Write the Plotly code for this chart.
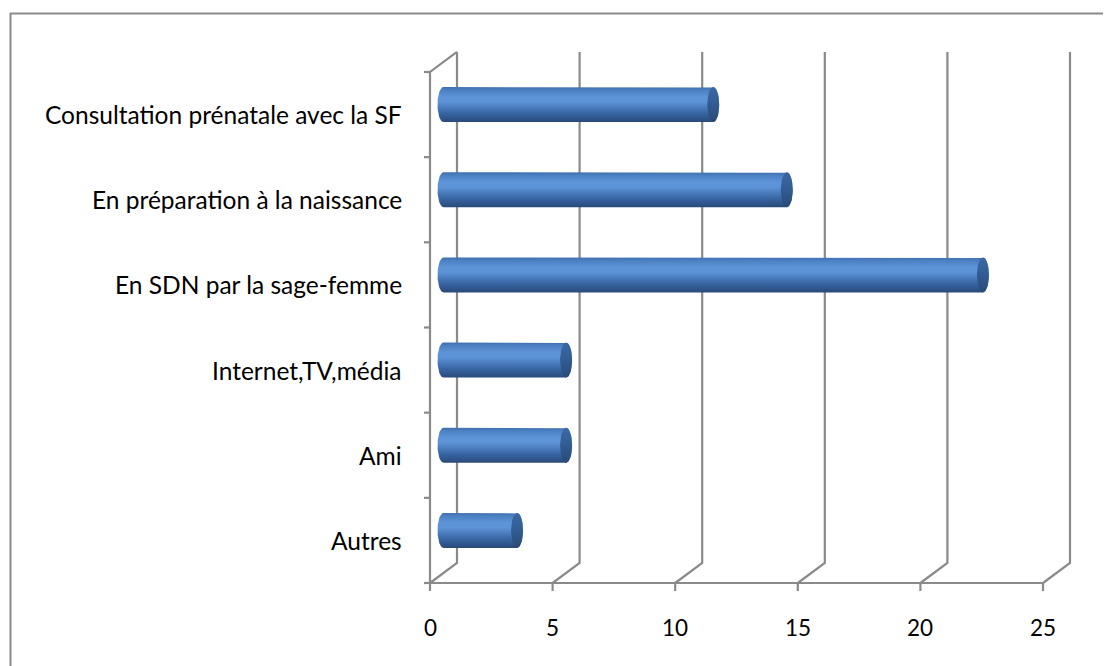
import numpy as np
import plotly.graph_objects as go

# ---------------- data ----------------
categories = ["Autres", "Ami", "Internet,TV,média", "En SDN par la sage-femme",
              "En préparation à la naissance", "Consultation prénatale avec la SF"]
values = [3, 5, 5, 22, 14, 11]
x_ticks = [0, 5, 10, 15, 20, 25]
x_tick_labels = ["0", "5", "10", "15", "20", "25"]

# ---------------- geometry (pixel -> data mapping) ----------------
OFF = 8                            # page body margin
W, H = 1111 - OFF, 666 - OFF
X0_PX, PX_PER_UNIT = 430 - OFF, 24.52   # value 0 at x=430 px (page), 25 at ~1043 px
Y0_PX, PX_PER_CAT = 583 - OFF, 85.17    # front axis at y=583 px (page)


def ux(px):
    return px / PX_PER_UNIT


def uy(px):
    return px / PX_PER_CAT


xr = [(0 - X0_PX) / PX_PER_UNIT, (W - X0_PX) / PX_PER_UNIT]
yr = [(Y0_PX - H) / PX_PER_CAT, Y0_PX / PX_PER_CAT]
DX, DY = ux(27), uy(20)           # 3D depth offset
n_cat = len(categories)
GRID = "#8a8a8a"
FONT = "Lato"

fig = go.Figure()

# ---------------- walls / gridlines ----------------
gx, gy = [], []
for t in x_ticks:
    gx += [t, t + DX, t + DX, None]
    gy += [0, DY, n_cat + DY, None]
# left (front) vertical axis and top diagonal
gx += [0, 0, DX, None]
gy += [0, n_cat, n_cat + DY, None]
# front horizontal axis
gx += [0, x_ticks[-1], None]
gy += [0, 0, None]
# category tick marks (left) and value tick marks (down)
for k in range(n_cat + 1):
    gx += [-ux(6), 0, None]
    gy += [k, k, None]
for t in x_ticks:
    gx += [t, t, None]
    gy += [0, -uy(8), None]
fig.add_trace(go.Scatter(x=gx, y=gy, mode="lines", line=dict(color=GRID, width=2.2),
                         hoverinfo="skip"))

# ---------------- cylinders ----------------
h = uy(17.5)
rx = ux(6)
body_scale = [[0, "#294a79"], [0.25, "#3865a3"], [0.58, "#5d94d7"],
              [0.72, "#5d94d7"], [0.9, "#4c81c3"], [1, "#3f70af"]]
cap_scale = [[0, "#2a4a78"], [0.6, "#335f97"], [1, "#3a68a4"]]
for i, v in enumerate(values):
    yc = i + 0.5 + DY / 2
    xs = DX / 2
    xe = v + DX / 2
    tr = np.linspace(np.pi / 2, -np.pi / 2, 40)
    tl = np.linspace(-np.pi / 2, -3 * np.pi / 2, 40)
    px = [xs] + list(xe + rx * np.cos(tr)) + list(xs + rx * np.cos(tl))
    py = [yc + h] + list(yc + h * np.sin(tr)) + list(yc + h * np.sin(tl))
    fig.add_trace(go.Scatter(
        x=px, y=py, mode="lines", fill="toself",
        line=dict(width=0, color="rgba(0,0,0,0)"),
        fillgradient=dict(type="vertical", colorscale=body_scale,
                          start=yc - h, stop=yc + h),
        hoverinfo="skip"))
    tc = np.linspace(0, 2 * np.pi, 60)
    fig.add_trace(go.Scatter(
        x=list(xe + rx * np.cos(tc)), y=list(yc + h * np.sin(tc)),
        mode="lines", fill="toself",
        line=dict(width=0, color="rgba(0,0,0,0)"),
        fillgradient=dict(type="vertical", colorscale=cap_scale,
                          start=yc - h, stop=yc + h),
        hoverinfo="skip"))

# ---------------- labels ----------------
annotations = []
for i, c in enumerate(categories):
    annotations.append(dict(x=ux(404 - 430), y=i + 0.5, xref="x", yref="y",
                            text=c, showarrow=False, xanchor="right", yanchor="middle",
                            font=dict(family=FONT, size=24.5, color="#000000")))
for t, lab in zip(x_ticks, x_tick_labels):
    annotations.append(dict(x=t, y=-uy(627 - 583), xref="x", yref="y",
                            text=lab, showarrow=False, xanchor="center", yanchor="middle",
                            font=dict(family=FONT, size=22.5, color="#000000")))

# ---------------- outer frame (top & left visible) ----------------
shapes = [
    dict(type="line", xref="paper", yref="paper", x0=(10 - OFF) / W, x1=1,
         y0=1 - (13.5 - OFF) / H, y1=1 - (13.5 - OFF) / H,
         line=dict(color="#8a8a8a", width=2)),
    dict(type="line", xref="paper", yref="paper", x0=(10.5 - OFF) / W, x1=(10.5 - OFF) / W,
         y0=0, y1=1 - (13 - OFF) / H,
         line=dict(color="#8a8a8a", width=2)),
]

fig.update_layout(
    width=W, height=H, autosize=False,
    margin=dict(l=0, r=0, t=0, b=0),
    paper_bgcolor="white", plot_bgcolor="white",
    showlegend=False,
    xaxis=dict(range=xr, visible=False, fixedrange=True),
    yaxis=dict(range=yr, visible=False, fixedrange=True),
    annotations=annotations, shapes=shapes,
)

fig.write_html("out.html")
